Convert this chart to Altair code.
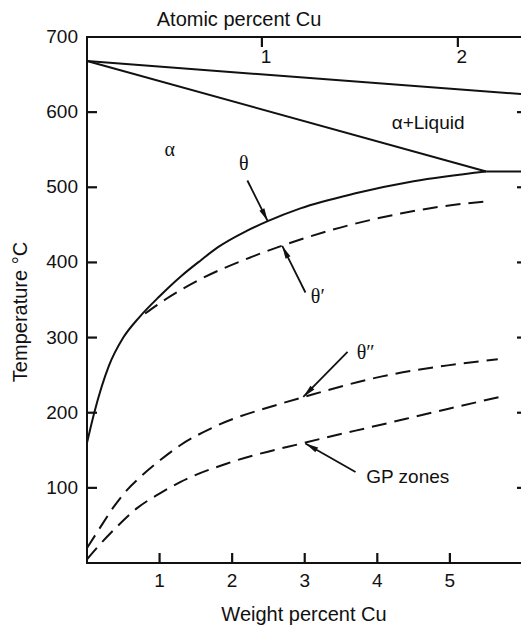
import math
import altair as alt
import pandas as pd

# ---------------- data ----------------
y_tick_values = [100, 200, 300, 400, 500, 600]
y_label_values = [100, 200, 300, 400, 500, 600, 700]
x_tick_values = [1, 2, 3, 4, 5]
right_tick_values = [100, 200, 300, 400, 500, 600]
atomic_labels = ["1", "2"]
atomic_wt = [2.41, 5.11]          # weight-% position of 1 and 2 atomic-% Cu

liquidus_wt = [0.0, 5.98]
liquidus_T = [668, 624]
solidus_wt = [0.0, 5.5]
solidus_T = [668, 521]
eutectic_wt = [5.5, 5.98]
eutectic_T = [521, 521]

theta_wt = [0.0, 0.1, 0.3, 0.5, 0.72, 1.0, 1.3, 1.57, 1.8, 2.2, 2.49, 2.94, 3.7, 4.5, 5.5]
theta_T = [160, 200, 262, 300, 327, 355, 382, 403, 420, 442, 455, 472, 492, 508, 521]

thetap_wt = [0.8, 1.1, 1.57, 2.26, 2.71, 3.59, 4.32, 4.85, 5.47]
thetap_T = [332, 352, 378, 407, 423, 449, 465, 474, 481]

thetapp_wt = [0.0, 0.16, 0.37, 0.55, 0.74, 1.01, 1.29, 1.75, 2.67, 2.99, 4.05, 4.97, 5.66]
thetapp_T = [20, 44, 75, 97, 115, 137, 157, 181, 212, 221, 248, 263, 271]

gp_wt = [0.0, 0.19, 0.42, 0.69, 1.01, 1.29, 1.98, 3.04, 4.05, 4.97, 5.73]
gp_T = [5, 26, 49, 73, 93, 108, 134, 161, 184, 205, 222]

serif_labels = ["α", "θ", "θ′", "θ″"]
serif_wt = [1.14, 2.16, 3.18, 3.84]
serif_T = [549, 531, 354, 279]
sans_labels = ["α+Liquid", "GP zones"]
sans_wt = [4.7, 4.42]
sans_T = [585, 115]

arrow_from_wt = [2.21, 3.01, 3.59, 3.70]
arrow_from_T = [509, 360, 281, 121]
arrow_to_wt = [2.49, 2.69, 2.98, 3.01]
arrow_to_T = [455, 422, 221, 159]

y_title = "Temperature °C"
x_title = "Weight percent Cu"
top_title = "Atomic percent Cu"

# ---------------- layout ----------------
W, H = 434, 526
X_MAX, Y_MAX = 5.98, 700
INK = "#111111"
SANS = "Liberation Sans"
SERIF = "Liberation Serif"
LW = 2
TW = 2.2
TICK = 10

xs = alt.Scale(domain=[0, X_MAX], nice=False, zero=False)
ys = alt.Scale(domain=[0, Y_MAX], nice=False, zero=False)
one_row = pd.DataFrame({"k": [0]})


def line_df(wt, T):
    return pd.DataFrame({"wt": wt, "T": T})


def curve(wt, T, dash=None, interp="linear"):
    kw = dict(color=INK, strokeWidth=LW, interpolate=interp, strokeCap="butt")
    if dash:
        kw["strokeDash"] = dash
    return alt.Chart(line_df(wt, T)).mark_line(**kw).encode(
        x=alt.X("wt:Q", scale=xs, axis=None),
        y=alt.Y("T:Q", scale=ys, axis=None),
    )


# frame lines (left, bottom, top) drawn through the scales
left_domain = alt.Chart(one_row).mark_rule(color=INK, strokeWidth=LW, strokeCap="square").encode(
    x=alt.X(datum=0, scale=xs, axis=None),
    y=alt.Y(datum=0, scale=ys, axis=None), y2=alt.Y2(datum=Y_MAX),
)
bottom_domain = alt.Chart(one_row).mark_rule(color=INK, strokeWidth=LW, strokeCap="square").encode(
    y=alt.Y(datum=0, scale=ys, axis=None),
    x=alt.X(datum=0, scale=xs, axis=None), x2=alt.X2(datum=X_MAX),
)
top_domain = alt.Chart(one_row).mark_rule(color=INK, strokeWidth=LW, strokeCap="square").encode(
    y=alt.Y(datum=Y_MAX, scale=ys, axis=None),
    x=alt.X(datum=0, scale=xs, axis=None), x2=alt.X2(datum=X_MAX),
)

# inward ticks
left_ticks = alt.Chart(pd.DataFrame({"T": y_tick_values})).mark_rule(
    color=INK, strokeWidth=TW
).encode(y=alt.Y("T:Q", scale=ys, axis=None), x=alt.value(0), x2=alt.value(TICK))
right_ticks = alt.Chart(pd.DataFrame({"T": right_tick_values})).mark_rule(
    color=INK, strokeWidth=TW
).encode(y=alt.Y("T:Q", scale=ys, axis=None), x=alt.value(W - 4), x2=alt.value(W))
bottom_ticks = alt.Chart(pd.DataFrame({"wt": x_tick_values})).mark_rule(
    color=INK, strokeWidth=TW
).encode(x=alt.X("wt:Q", scale=xs, axis=None), y=alt.value(H - TICK), y2=alt.value(H))
top_ticks = alt.Chart(pd.DataFrame({"wt": atomic_wt})).mark_rule(
    color=INK, strokeWidth=TW
).encode(x=alt.X("wt:Q", scale=xs, axis=None), y=alt.value(0), y2=alt.value(TICK))

# tick labels
left_labels = alt.Chart(pd.DataFrame({"T": y_label_values})).mark_text(
    font=SANS, fontSize=19, color=INK, align="right", baseline="middle", dx=-9
).encode(y=alt.Y("T:Q", scale=ys, axis=None), x=alt.value(0), text=alt.Text("T:Q"))
bottom_labels = alt.Chart(pd.DataFrame({"wt": x_tick_values})).mark_text(
    font=SANS, fontSize=19, color=INK, align="center", baseline="middle"
).encode(x=alt.X("wt:Q", scale=xs, axis=None), y=alt.value(H + 18), text=alt.Text("wt:Q"))
top_labels = alt.Chart(pd.DataFrame({"wt": atomic_wt, "lab": atomic_labels})).mark_text(
    font=SANS, fontSize=19, color=INK, baseline="middle", align="center", dx=4
).encode(x=alt.X("wt:Q", scale=xs, axis=None), y=alt.value(20), text="lab:N")

# axis titles
title_y = alt.Chart(pd.DataFrame({"t": [y_title]})).mark_text(
    font=SANS, fontSize=20, color=INK, angle=270, align="center", baseline="middle"
).encode(x=alt.value(-66), y=alt.value(275), text="t:N")
title_x = alt.Chart(pd.DataFrame({"t": [x_title]})).mark_text(
    font=SANS, fontSize=20, color=INK, align="center", baseline="middle"
).encode(x=alt.value(W / 2), y=alt.value(H + 52), text="t:N")
title_top = alt.Chart(pd.DataFrame({"t": [top_title]})).mark_text(
    font=SANS, fontSize=20, color=INK, align="center", baseline="middle"
).encode(x=alt.value(152), y=alt.value(-17), text="t:N")

DASH = [15, 8]
lines = [
    curve(liquidus_wt, liquidus_T),
    curve(solidus_wt, solidus_T),
    curve(eutectic_wt, eutectic_T),
    curve(theta_wt, theta_T, interp="monotone"),
    curve(thetap_wt, thetap_T, dash=DASH, interp="monotone"),
    curve(thetapp_wt, thetapp_T, dash=DASH, interp="monotone"),
    curve(gp_wt, gp_T, dash=DASH, interp="monotone"),
]

serif_text = alt.Chart(pd.DataFrame({"wt": serif_wt, "T": serif_T, "t": serif_labels})).mark_text(
    font=SERIF, fontSize=20, color=INK, align="center", baseline="middle"
).encode(
    x=alt.X("wt:Q", scale=xs, axis=None),
    y=alt.Y("T:Q", scale=ys, axis=None),
    text="t:N",
)
sans_text = alt.Chart(pd.DataFrame({"wt": sans_wt, "T": sans_T, "t": sans_labels})).mark_text(
    font=SANS, fontSize=19, color=INK, align="center", baseline="middle"
).encode(
    x=alt.X("wt:Q", scale=xs, axis=None),
    y=alt.Y("T:Q", scale=ys, axis=None),
    text="t:N",
)

# arrows
px_w = W / X_MAX
px_t = H / Y_MAX
angles = []
for a, b, c, d in zip(arrow_from_wt, arrow_from_T, arrow_to_wt, arrow_to_T):
    ang = math.degrees(math.atan2((c - a) * px_w, (d - b) * px_t)) % 360
    angles.append(ang)
arrow_df = pd.DataFrame({
    "wt": arrow_from_wt, "T": arrow_from_T,
    "wt2": arrow_to_wt, "T2": arrow_to_T, "ang": angles,
})
arrow_lines = alt.Chart(arrow_df).mark_rule(color=INK, strokeWidth=1.8).encode(
    x=alt.X("wt:Q", scale=xs, axis=None), y=alt.Y("T:Q", scale=ys, axis=None),
    x2="wt2:Q", y2="T2:Q",
)
arrow_heads = alt.Chart(arrow_df).mark_point(
    shape="M0,0L-0.55,2.6L0.55,2.6Z", filled=True, color=INK, size=100, opacity=1
).encode(
    x=alt.X("wt2:Q", scale=xs, axis=None), y=alt.Y("T2:Q", scale=ys, axis=None),
    angle=alt.Angle("ang:Q", scale=None),
)

chart = alt.layer(
    *lines, serif_text, sans_text, arrow_lines, arrow_heads,
    left_labels, bottom_labels, top_labels, title_y, title_x, title_top,
    left_domain, bottom_domain, top_domain,
    left_ticks, right_ticks, bottom_ticks, top_ticks,
).properties(
    width=W, height=H,
    autosize=alt.AutoSizeParams(type="none"),
    padding={"left": 79, "top": 29, "right": 0, "bottom": 62},
    background="white",
).configure_view(stroke=None)

chart.save("out.html", embed_options={"renderer": "svg", "actions": False})
